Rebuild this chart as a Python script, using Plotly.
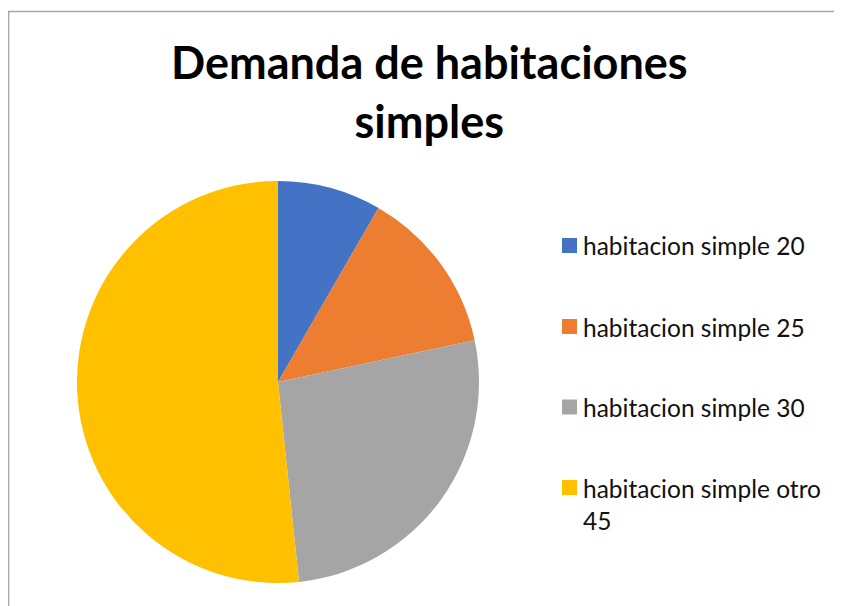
import plotly.graph_objects as go

labels = ["habitacion simple 20", "habitacion simple 25", "habitacion simple 30", "habitacion simple otro 45"]
legend_text = ["habitacion simple 20", "habitacion simple 25", "habitacion simple 30", "habitacion simple otro<br>45"]
values = [10, 16, 32, 62]
colors = ["#4472C4", "#ED7D31", "#A5A5A5", "#FFC000"]

# the page body adds an 8px margin, so work in window pixels and convert
OFF = 8
W, H = 842 - OFF, 606 - OFF


def px_x(x):
    return (x - OFF) / W


def px_y(y):
    return 1 - (y - OFF) / H


fig = go.Figure()
fig.add_trace(go.Pie(
    labels=labels,
    values=values,
    sort=False,
    direction="clockwise",
    rotation=0,
    textinfo="none",
    hoverinfo="label+value+percent",
    marker=dict(colors=colors, line=dict(width=0)),
    domain=dict(x=[px_x(77), px_x(479)], y=[px_y(583), px_y(181)]),
    showlegend=False,
))

# chart area border (Excel-style)
fig.add_shape(type="rect", xref="paper", yref="paper",
              x0=0.6 / W, x1=1.02, y0=-0.02, y1=px_y(11.5),
              line=dict(color="#a6a6a6", width=1.5), fillcolor="rgba(0,0,0,0)")

# legend laid out like Excel's (wide spacing, wrapped last entry)
legend_y = [245.5, 326.5, 407, 487.5]
for lbl, col, yc in zip(legend_text, colors, legend_y):
    fig.add_shape(type="rect", xref="paper", yref="paper",
                  x0=px_x(562), x1=px_x(577), y0=px_y(yc + 7.5), y1=px_y(yc - 7.5),
                  fillcolor=col, line=dict(width=0))
    fig.add_annotation(text=lbl, xref="paper", yref="paper",
                       x=px_x(581), y=px_y(yc - 16), xanchor="left", yanchor="top",
                       align="left", showarrow=False,
                       font=dict(family="Lato", size=24.5, color="#111111"))

fig.add_annotation(
    text="<b>Demanda de habitaciones<br>simples</b>",
    xref="paper", yref="paper",
    x=px_x(430), y=px_y(33), xanchor="center", yanchor="top",
    showarrow=False, align="center",
    font=dict(family="Lato", size=45, color="#000000"),
)

fig.update_layout(
    width=W, height=H,
    margin=dict(l=0, r=0, t=0, b=0),
    paper_bgcolor="white",
    plot_bgcolor="white",
)

fig.write_html("out.html")
